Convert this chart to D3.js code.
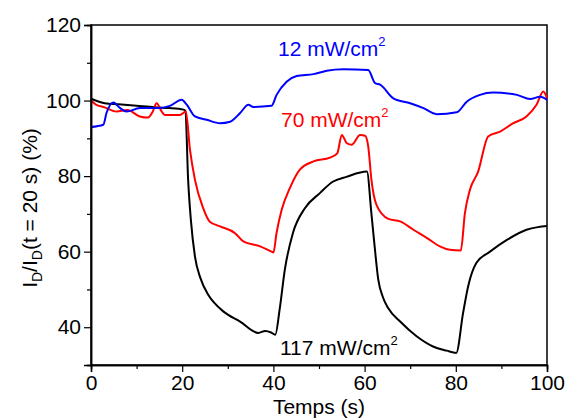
<!DOCTYPE html>
<html><head><meta charset="utf-8">
<script src="https://cdn.jsdelivr.net/npm/d3@7"></script>
<style>body{margin:0;background:#fff}svg{display:block}text{font-family:"Liberation Sans",Arial,sans-serif}</style>
</head><body>
<svg id="c" width="565" height="419"></svg>
<script>
const xTicks = [0, 20, 40, 60, 80, 100];
const yTicks = [40, 60, 80, 100, 120];
const xMinor = [10, 30, 50, 70, 90];
const yMinor = [30, 50, 70, 90, 110];

const series117 = [[0,100.5],[1,100],[3,99.3],[6,99],[10,98.6],[14,98.2],[17,98],[20.3,97.6],[20.7,97.3],[21.3,79],[21.9,68.4],[22.8,58.7],[24,53],[25.7,48.6],[27,46.5],[29,44.2],[32.7,41.5],[36.7,38.5],[38.2,39],[39.5,38.6],[40.4,38],[41.4,45],[42.5,55.2],[44.3,65],[46.9,71.5],[50.2,75.5],[53,78.5],[56,79.8],[60.5,81.2],[61.5,70],[62.2,61.4],[63,52.6],[64,48],[65.2,45],[67.8,41.5],[71.4,37.6],[75,34.9],[78,33.8],[80.1,33.2],[81.6,43.8],[82.7,50.8],[84.5,57],[87.5,60],[91.2,63.1],[95.5,65.8],[98,66.5],[100,66.8]];
const series70 = [[0,100],[1,99],[3,98.2],[5.6,97.1],[8,97.5],[10.7,95.8],[12.5,95.5],[13.5,97],[14.4,99.3],[15.5,97.1],[16.2,96.2],[19.5,96.2],[20.8,97.1],[21.7,87],[22.8,79],[24.6,71.5],[26,68],[28.3,66.7],[31.6,64.9],[33.4,62.7],[37.1,61.4],[39.6,60],[40,59.8],[40.7,65],[41.8,71],[43.6,76.8],[45.8,81.7],[48.8,83.9],[52.4,84.9],[54,86],[55,90.9],[56.1,88.7],[57.2,88.3],[59,90.9],[60.1,90.7],[60.8,87.8],[61.5,79],[62.6,72.4],[65.2,68.7],[67.8,68],[70.7,65.8],[73.7,63.6],[76.5,61.4],[78.7,60.5],[81.1,60.3],[82,70.2],[83.1,76.4],[84.9,81.2],[87.1,90.5],[89.7,91.8],[92.6,94],[95.5,95.8],[97.7,98.9],[99.2,102.4],[100,100.6]];
const series12 = [[0,93],[2.7,93.6],[3.4,96.7],[4.9,99.5],[6.4,98],[7.8,97.1],[10.7,98],[14.4,98],[17.3,98.6],[19.9,100.2],[21,98.9],[22.8,95.8],[25.4,94.9],[28.3,94],[30.5,94.4],[32.7,96.7],[34.5,98.9],[35.6,98.3],[39.6,98.6],[40.7,101.5],[42.9,105],[45.1,106.5],[48.8,107],[51.7,107.9],[55.3,108.3],[60.8,108.1],[62.3,104.6],[63.4,104.2],[66.3,100.6],[70,99.3],[72.9,98],[75.8,96.4],[80.2,96.9],[82.4,99.7],[85.3,101.5],[88.2,102.1],[93.4,101.5],[96.3,100.4],[98.5,101],[100,100.2]];

const seriesList = [
  {name:"117", data:series117, color:"#000000"},
  {name:"70", data:series70, color:"#ff0000"},
  {name:"12", data:series12, color:"#0000ff"}
];

const svg = d3.select("#c");
const L=91, R=547, T=25, B=365;
const x = d3.scaleLinear().domain([0,100]).range([L,R]);
const y = d3.scaleLinear().domain([30,120]).range([B,T]);

svg.append("rect").attr("x",L).attr("y",T).attr("width",R-L).attr("height",B-T)
  .attr("fill","none").attr("stroke","#000").attr("stroke-width",1.5);

const line = d3.line().x(d=>x(d[0])).y(d=>y(d[1])).curve(d3.curveMonotoneX);
seriesList.forEach(s=>{
  svg.append("path").attr("d",line(s.data)).attr("fill","none")
    .attr("stroke",s.color).attr("stroke-width",2).attr("stroke-linejoin","round");
});

const xAx = svg.append("g").attr("transform",`translate(0,${B})`)
  .call(d3.axisBottom(x).tickValues(xTicks).tickSize(7).tickPadding(3).tickFormat(d3.format("d")));
const xAxm = svg.append("g").attr("transform",`translate(0,${B})`)
  .call(d3.axisBottom(x).tickValues(xMinor).tickSize(4).tickFormat(""));
const yAx = svg.append("g").attr("transform",`translate(${L},0)`)
  .call(d3.axisLeft(y).tickValues(yTicks).tickSize(7).tickPadding(3).tickFormat(d3.format("d")));
const yAxm = svg.append("g").attr("transform",`translate(${L},0)`)
  .call(d3.axisLeft(y).tickValues(yMinor).tickSize(4).tickFormat(""));
[xAx,xAxm,yAx,yAxm].forEach(g=>{
  g.select(".domain").attr("stroke","#000").attr("stroke-width",1.5);
  g.selectAll(".tick line").attr("stroke","#000").attr("stroke-width",1.2);
  g.selectAll("text").attr("font-size",21).attr("fill","#000").attr("font-family",'"Liberation Sans",Arial,sans-serif');
});

svg.append("text").attr("x",(L+R)/2).attr("y",414).attr("text-anchor","middle")
  .attr("font-size",21).text("Temps (s)");
const yl = svg.append("text").attr("transform","translate(37,208) rotate(-90)")
  .attr("text-anchor","middle").attr("font-size",21);
yl.append("tspan").text("I");
yl.append("tspan").attr("font-size",14).attr("dy",5).text("D");
yl.append("tspan").attr("dy",-5).text("/I");
yl.append("tspan").attr("font-size",14).attr("dy",5).text("D");
yl.append("tspan").attr("dy",-5).text("(t = 20 s) (%)");

function annot(tx,ty,label,color){
  const t = svg.append("text").attr("x",tx).attr("y",ty).attr("font-size",21).attr("fill",color);
  t.append("tspan").text(label);
  t.append("tspan").attr("font-size",13).attr("dy",-10).text("2");
}
annot(278,56,"12 mW/cm","#0000ff");
annot(281,127,"70 mW/cm","#ff0000");
annot(280,355,"117 mW/cm","#000000");
</script>
</body></html>
